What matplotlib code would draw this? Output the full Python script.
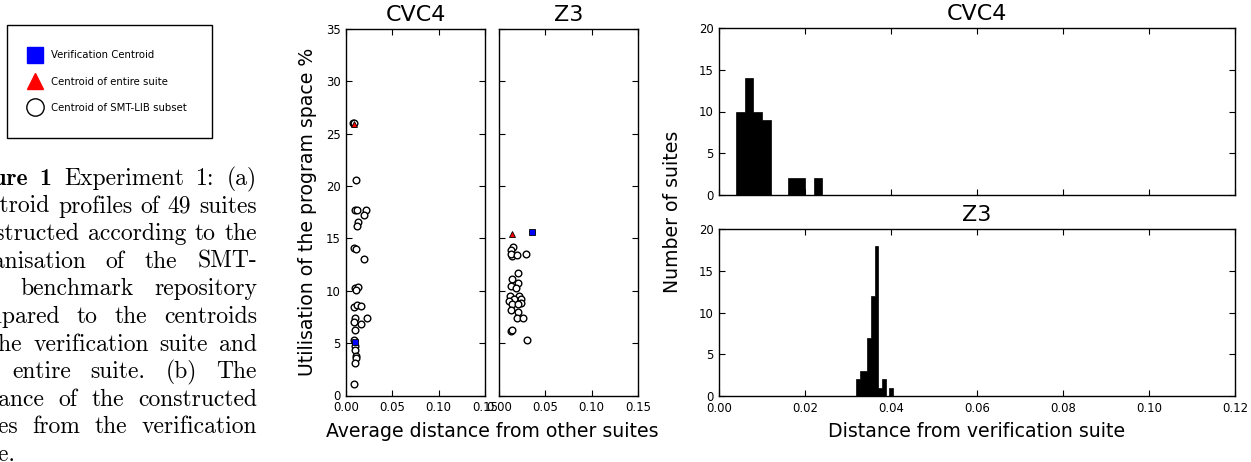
import matplotlib
matplotlib.use("Agg")
import matplotlib.pyplot as plt
from matplotlib.lines import Line2D
import numpy as np

W, H = 1251, 462

# scatter data: average distance from other suites vs utilisation (%)
cvc4_x = [0.0075, 0.0085, 0.0105, 0.0097, 0.0115, 0.0216, 0.0194, 0.0126, 0.0115,
          0.0086, 0.0108, 0.0194, 0.0097, 0.0133, 0.0108, 0.0086, 0.0115, 0.0158,
          0.0230, 0.0097, 0.0086, 0.0158, 0.0097, 0.0090, 0.0097, 0.0097, 0.0108,
          0.0108, 0.0097, 0.0090]
cvc4_y = [26.05, 26.0, 20.6, 17.7, 17.7, 17.7, 17.2, 16.6, 16.2,
          14.1, 14.0, 13.0, 10.3, 10.35, 10.1, 8.45, 8.65, 8.55,
          7.4, 7.4, 6.98, 6.85, 6.28, 5.26, 4.68, 4.3, 3.73,
          3.57, 3.09, 1.09]
cvc4_all = (0.0090, 25.97)
cvc4_verif = (0.0097, 5.07)

z3_x = [0.0155, 0.0130, 0.0137, 0.0126, 0.0191, 0.0292, 0.0209, 0.0144, 0.0209,
        0.0130, 0.0184, 0.0119, 0.0220, 0.0238, 0.0166, 0.0112, 0.0238, 0.0144,
        0.0202, 0.0130, 0.0202, 0.0191, 0.0256, 0.0130, 0.0137, 0.0299]
z3_y = [14.19, 13.87, 13.29, 13.55, 13.45, 13.52, 11.7, 11.13, 10.74,
        10.42, 10.23, 9.53, 9.47, 9.25, 9.25, 9.05, 8.83, 8.77,
        8.77, 8.19, 7.97, 7.4, 7.4, 6.19, 6.28, 5.33]
z3_all = (0.0144, 15.46)
z3_verif = (0.0353, 15.58)

# histogram data: distance from verification suite
cvc4_edges = np.linspace(0.004, 0.024, 11)
cvc4_counts = [10, 14, 10, 9, 0, 0, 2, 2, 0, 2]
z3_edges = np.linspace(0.0319, 0.0405, 11)
z3_counts = [2, 3, 3, 7, 12, 18, 1, 2, 0, 1]

legend_labels = ["Verification Centroid", "Centroid of entire suite",
                 "Centroid of SMT-LIB subset"]

caption = [
    [("Figure", True), ("1", True), ("Experiment", False), ("1:", False), ("(a)", False)],
    "Centroid profiles of 49 suites",
    "constructed according to the",
    "organisation of the SMT-",
    "LIB benchmark repository",
    "compared to the centroids",
    "of the verification suite and",
    "the entire suite.  (b) The",
    "distance of the constructed",
    "suites from the verification",
    "suite.",
]

plt.rcParams.update({
    "font.family": "DejaVu Sans",
    "xtick.direction": "in", "ytick.direction": "in",
    "xtick.top": True, "ytick.right": True,
    "xtick.major.size": 4, "ytick.major.size": 4,
    "xtick.major.width": 0.8, "ytick.major.width": 0.8,
    "xtick.labelsize": 8.4, "ytick.labelsize": 8.4,
    "xtick.major.pad": 4, "ytick.major.pad": 4,
    "axes.linewidth": 1.0,
})

fig = plt.figure(figsize=(W / 100, H / 100), dpi=100)


def box(l, t, r, b):
    return [l / W, 1 - b / H, (r - l) / W, (b - t) / H]


ax1 = fig.add_axes(box(346, 29, 485, 395.5))
ax2 = fig.add_axes(box(499, 29, 638, 395.5))
for ax, xs, ys, tri, sq, name in [(ax1, cvc4_x, cvc4_y, cvc4_all, cvc4_verif, "CVC4"),
                                   (ax2, z3_x, z3_y, z3_all, z3_verif, "Z3")]:
    ax.plot(xs, ys, "o", ms=4.8, mfc="white", mec="k", mew=1.0)
    ax.plot(*tri, "^", ms=5, mfc="red", mec="k", mew=0.6)
    ax.plot(*sq, "s", ms=5, mfc="blue", mec="k", mew=0.6)
    ax.set_xlim(0, 0.15)
    ax.set_ylim(0, 35)
    ax.set_xticks([0, 0.05, 0.10, 0.15])
    ax.set_xticklabels(["0.00", "0.05", "0.10", "0.15"])
    ax.set_yticks(range(0, 36, 5))
    ax.set_title(name, fontsize=16, pad=6)
ax2.set_yticklabels([])
ax1.set_ylabel("Utilisation of the program space %", fontsize=13.6, labelpad=6)
fig.text(492 / W, 1 - 437 / H, "Average distance from other suites",
         fontsize=13.6, ha="center", va="baseline")

ax3 = fig.add_axes(box(719, 28, 1235, 195))
ax4 = fig.add_axes(box(719, 229, 1235, 396))
for ax, edges, counts, name in [(ax3, cvc4_edges, cvc4_counts, "CVC4"),
                                (ax4, z3_edges, z3_counts, "Z3")]:
    ax.hist(edges[:-1], bins=edges, weights=counts, histtype="stepfilled",
            facecolor="k", edgecolor="k", lw=0.5)
    ax.set_xlim(0, 0.12)
    ax.set_ylim(0, 20)
    ax.set_xticks(np.arange(0, 0.121, 0.02))
    ax.set_yticks(range(0, 21, 5))
    ax.set_title(name, fontsize=16, pad=6)
ax3.set_xticklabels([])
ax4.set_xticklabels(["0.00", "0.02", "0.04", "0.06", "0.08", "0.10", "0.12"])
fig.text(673 / W, 1 - 212 / H, "Number of suites", fontsize=13.6,
         rotation=90, ha="center", va="center")
fig.text(977 / W, 1 - 437 / H, "Distance from verification suite",
         fontsize=13.6, ha="center", va="baseline")

# legend box at the top left
handles = [
    Line2D([], [], ls="none", marker="s", ms=11, mfc="blue", mec="blue"),
    Line2D([], [], ls="none", marker="^", ms=12, mfc="red", mec="red"),
    Line2D([], [], ls="none", marker="o", ms=12.5, mfc="white", mec="k", mew=1.0),
]
leg = fig.legend(handles, legend_labels, loc="upper left",
                 bbox_to_anchor=(7 / W, 1 - 25 / H), bbox_transform=fig.transFigure,
                 borderaxespad=0, fontsize=7.3, numpoints=1, fancybox=False,
                 edgecolor="k", framealpha=1, borderpad=2.5, labelspacing=1.6,
                 handlelength=0.6, handletextpad=1.2)
leg.get_frame().set_linewidth(1.0)

# justified caption, clipped by the left edge of the figure
renderer = fig.canvas.get_renderer()
L, R = -40, 257
base0, step = 185, 27.6
csize = 17
for i, line in enumerate(caption):
    if isinstance(line, str):
        words = [(w, False) for w in line.split()]
    else:
        words = line
    y = 1 - (base0 + i * step) / H
    texts = []
    for w, bold in words:
        t = fig.text(0, y, w, fontsize=csize, family="cmb10" if bold else "cmr10",
                     va="baseline", ha="left")
        texts.append(t)
    widths = [t.get_window_extent(renderer).width for t in texts]
    if i == len(caption) - 1 or len(texts) == 1:
        gap = 0.333 * csize * 100 / 72
    else:
        gap = (R - L - sum(widths)) / (len(texts) - 1)
    x = L
    for t, wd in zip(texts, widths):
        t.set_x(x / W)
        x += wd + gap

fig.savefig("out.png", dpi=100)
